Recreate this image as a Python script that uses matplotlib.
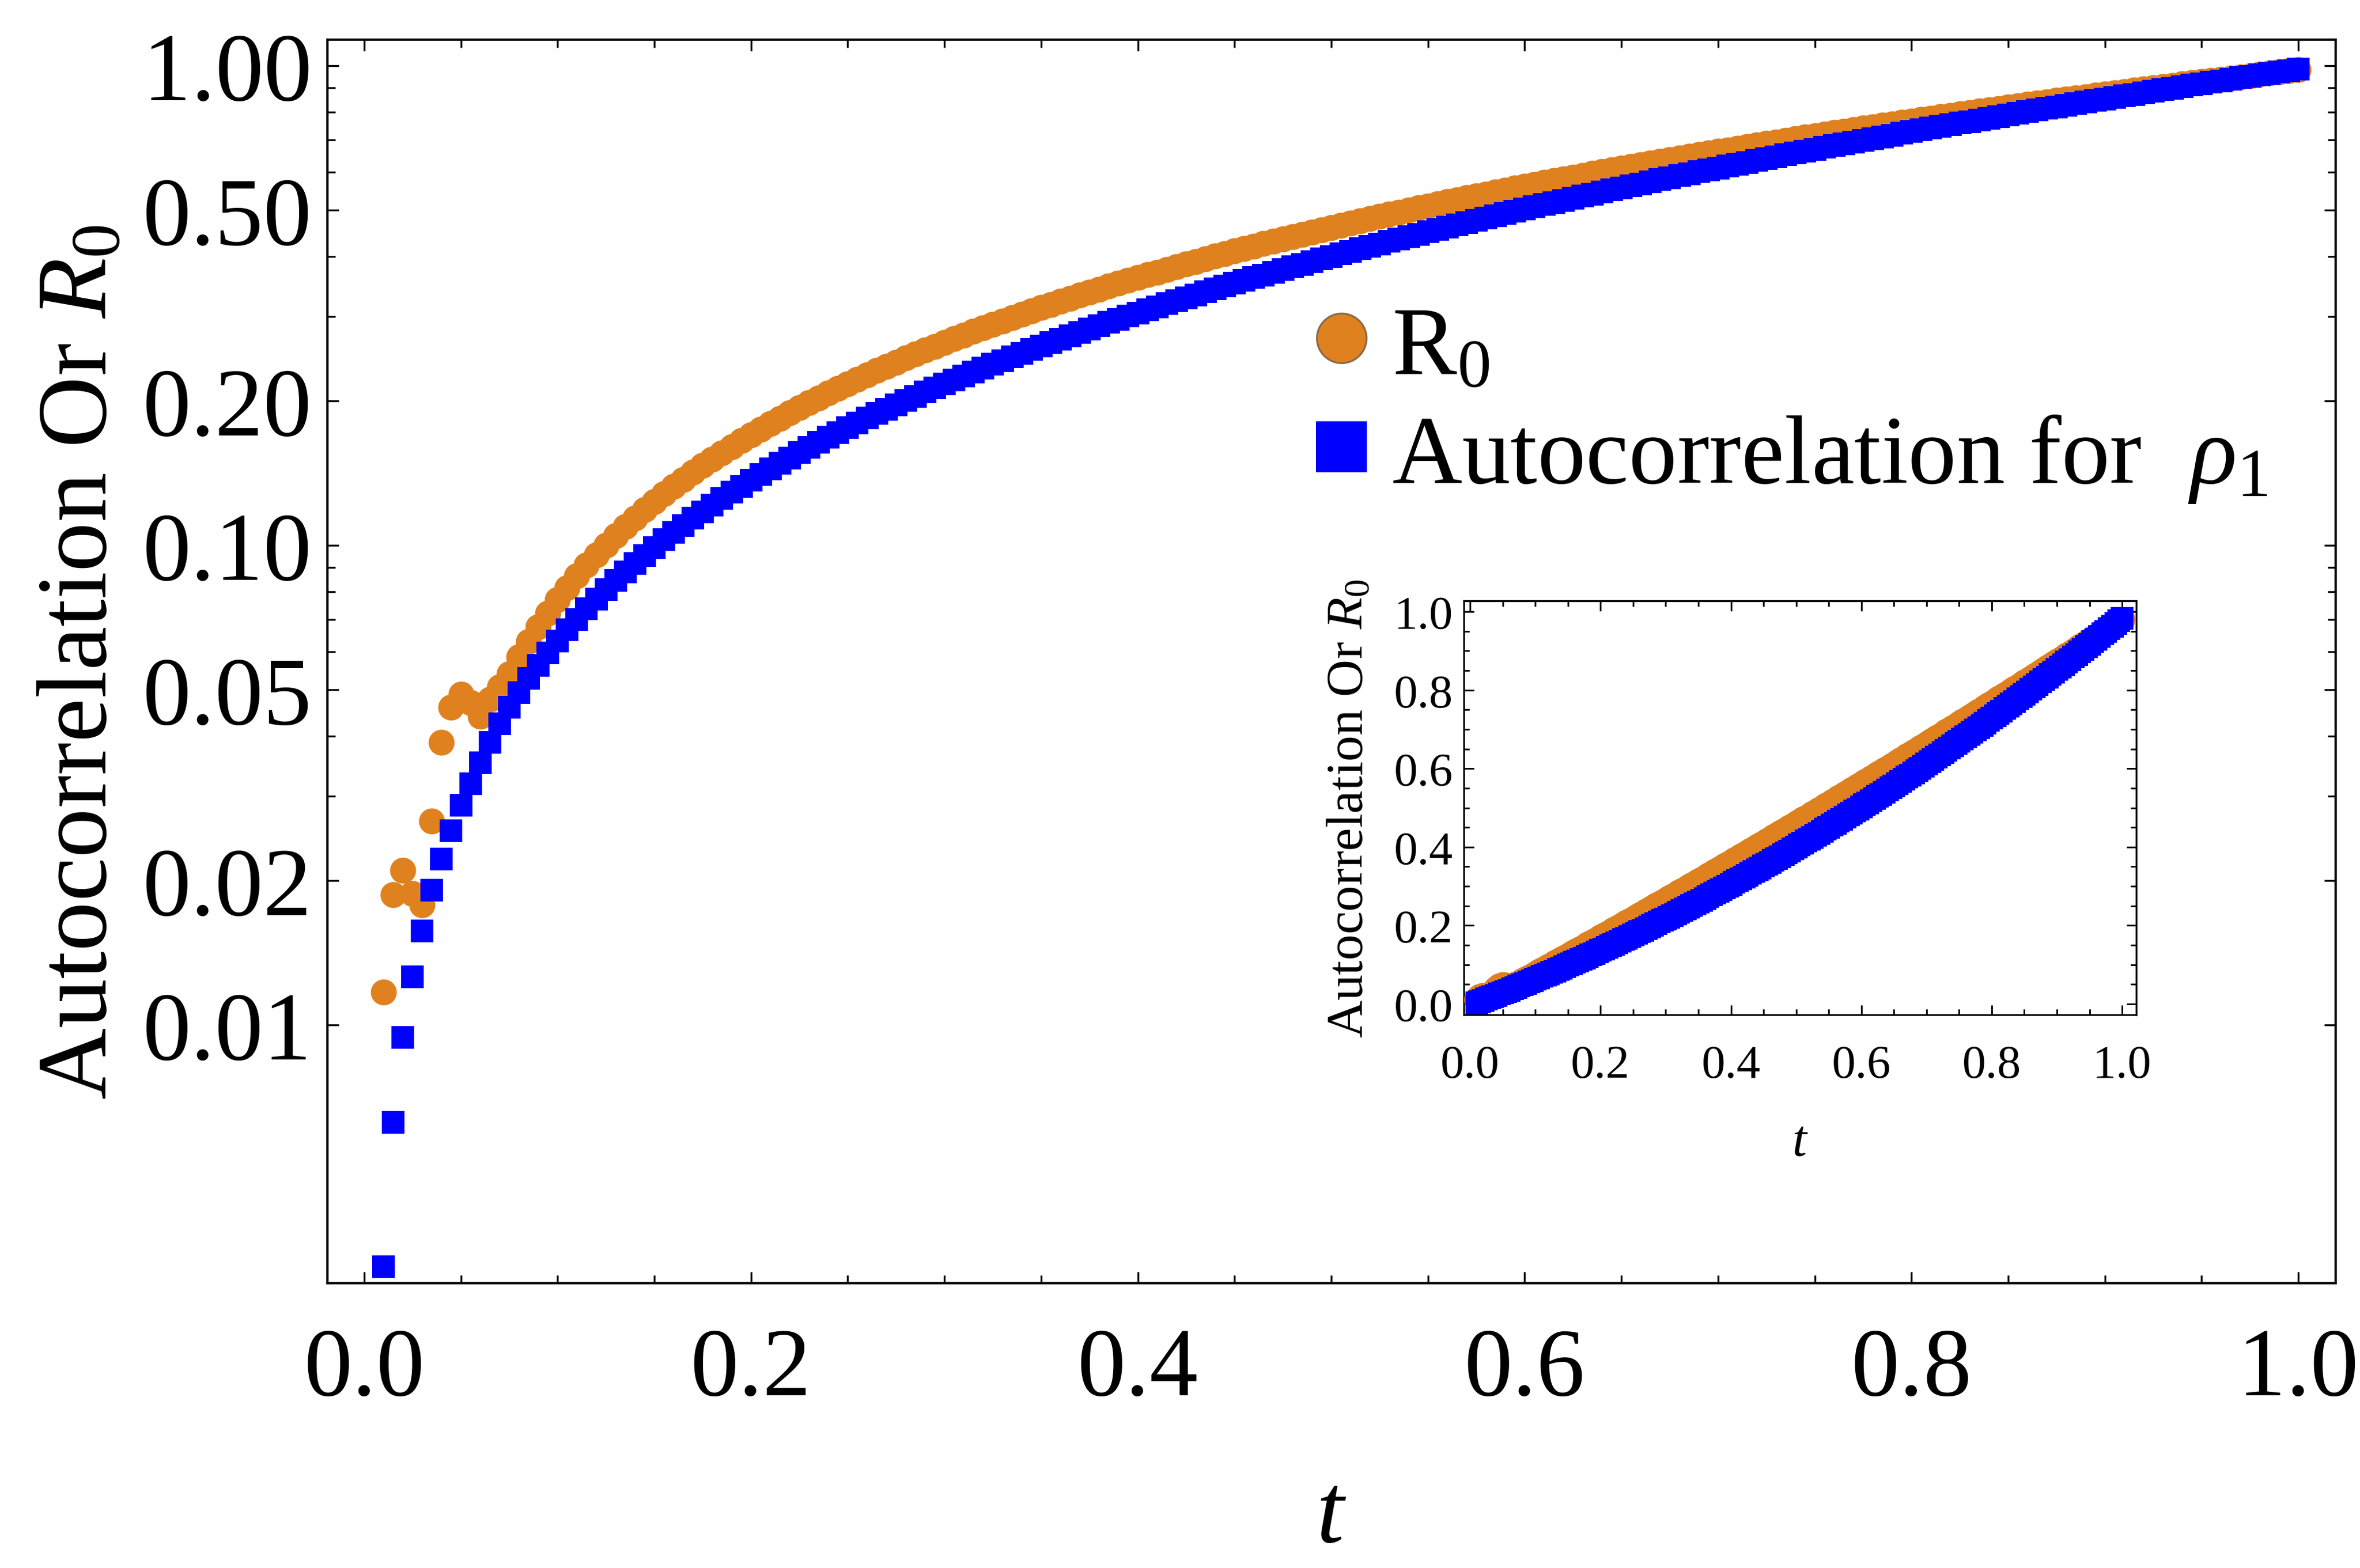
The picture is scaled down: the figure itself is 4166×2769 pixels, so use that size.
import matplotlib
matplotlib.use('Agg')
import matplotlib.pyplot as plt
from matplotlib.lines import Line2D
from matplotlib.ticker import FixedLocator, FixedFormatter, NullFormatter

# ---------------- data ----------------
t_values = [
    0.010, 0.015, 0.020, 0.025, 0.030, 0.035, 0.040, 0.045, 0.050, 0.055,
    0.060, 0.065, 0.070, 0.075, 0.080, 0.085, 0.090, 0.095, 0.100, 0.105,
    0.110, 0.115, 0.120, 0.125, 0.130, 0.135, 0.140, 0.145, 0.150, 0.155,
    0.160, 0.165, 0.170, 0.175, 0.180, 0.185, 0.190, 0.195, 0.200, 0.205,
    0.210, 0.215, 0.220, 0.225, 0.230, 0.235, 0.240, 0.245, 0.250, 0.255,
    0.260, 0.265, 0.270, 0.275, 0.280, 0.285, 0.290, 0.295, 0.300, 0.305,
    0.310, 0.315, 0.320, 0.325, 0.330, 0.335, 0.340, 0.345, 0.350, 0.355,
    0.360, 0.365, 0.370, 0.375, 0.380, 0.385, 0.390, 0.395, 0.400, 0.405,
    0.410, 0.415, 0.420, 0.425, 0.430, 0.435, 0.440, 0.445, 0.450, 0.455,
    0.460, 0.465, 0.470, 0.475, 0.480, 0.485, 0.490, 0.495, 0.500, 0.505,
    0.510, 0.515, 0.520, 0.525, 0.530, 0.535, 0.540, 0.545, 0.550, 0.555,
    0.560, 0.565, 0.570, 0.575, 0.580, 0.585, 0.590, 0.595, 0.600, 0.605,
    0.610, 0.615, 0.620, 0.625, 0.630, 0.635, 0.640, 0.645, 0.650, 0.655,
    0.660, 0.665, 0.670, 0.675, 0.680, 0.685, 0.690, 0.695, 0.700, 0.705,
    0.710, 0.715, 0.720, 0.725, 0.730, 0.735, 0.740, 0.745, 0.750, 0.755,
    0.760, 0.765, 0.770, 0.775, 0.780, 0.785, 0.790, 0.795, 0.800, 0.805,
    0.810, 0.815, 0.820, 0.825, 0.830, 0.835, 0.840, 0.845, 0.850, 0.855,
    0.860, 0.865, 0.870, 0.875, 0.880, 0.885, 0.890, 0.895, 0.900, 0.905,
    0.910, 0.915, 0.920, 0.925, 0.930, 0.935, 0.940, 0.945, 0.950, 0.955,
    0.960, 0.965, 0.970, 0.975, 0.980, 0.985, 0.990, 0.995, 1.000,
]

r0_values = [
    0.0117, 0.0187, 0.0210, 0.0188, 0.0178, 0.0266, 0.0388, 0.0460, 0.0489, 0.0470,
    0.0440, 0.0477, 0.0507, 0.0540, 0.0585, 0.0630, 0.0675, 0.0722, 0.0770, 0.0816,
    0.0862, 0.0908, 0.0954, 0.1001, 0.1047, 0.1093, 0.1139, 0.1186, 0.1232, 0.1279,
    0.1325, 0.1372, 0.1419, 0.1465, 0.1512, 0.1559, 0.1606, 0.1652, 0.1699, 0.1746,
    0.1793, 0.1840, 0.1887, 0.1935, 0.1982, 0.2029, 0.2076, 0.2124, 0.2171, 0.2218,
    0.2266, 0.2313, 0.2361, 0.2408, 0.2456, 0.2504, 0.2552, 0.2599, 0.2647, 0.2695,
    0.2743, 0.2791, 0.2839, 0.2887, 0.2935, 0.2983, 0.3032, 0.3080, 0.3128, 0.3177,
    0.3225, 0.3273, 0.3322, 0.3370, 0.3419, 0.3468, 0.3516, 0.3565, 0.3614, 0.3662,
    0.3711, 0.3760, 0.3809, 0.3858, 0.3907, 0.3956, 0.4006, 0.4055, 0.4104, 0.4153,
    0.4203, 0.4252, 0.4301, 0.4351, 0.4400, 0.4450, 0.4500, 0.4549, 0.4599, 0.4649,
    0.4698, 0.4748, 0.4798, 0.4848, 0.4898, 0.4948, 0.4998, 0.5048, 0.5098, 0.5149,
    0.5199, 0.5249, 0.5299, 0.5350, 0.5400, 0.5451, 0.5501, 0.5552, 0.5603, 0.5653,
    0.5704, 0.5755, 0.5806, 0.5856, 0.5907, 0.5958, 0.6009, 0.6060, 0.6111, 0.6162,
    0.6214, 0.6265, 0.6316, 0.6367, 0.6419, 0.6470, 0.6522, 0.6573, 0.6625, 0.6676,
    0.6728, 0.6780, 0.6831, 0.6883, 0.6935, 0.6987, 0.7039, 0.7091, 0.7143, 0.7195,
    0.7247, 0.7299, 0.7352, 0.7404, 0.7456, 0.7508, 0.7561, 0.7613, 0.7666, 0.7718,
    0.7771, 0.7823, 0.7876, 0.7929, 0.7982, 0.8034, 0.8087, 0.8140, 0.8193, 0.8246,
    0.8299, 0.8352, 0.8405, 0.8459, 0.8512, 0.8565, 0.8618, 0.8672, 0.8725, 0.8779,
    0.8832, 0.8886, 0.8939, 0.8993, 0.9047, 0.9100, 0.9154, 0.9208, 0.9262, 0.9316,
    0.9370, 0.9424, 0.9478, 0.9532, 0.9586, 0.9640, 0.9695, 0.9749, 0.9803,
]

rho1_values = [
    0.00313, 0.00627, 0.00942, 0.0126, 0.0157, 0.0191, 0.0222, 0.0254, 0.0287, 0.0318,
    0.0352, 0.0388, 0.0425, 0.0459, 0.0493, 0.0527, 0.0562, 0.0596, 0.0631, 0.0666,
    0.0701, 0.0737, 0.0772, 0.0808, 0.0844, 0.0880, 0.0916, 0.0953, 0.0989, 0.1026,
    0.1063, 0.1100, 0.1138, 0.1175, 0.1213, 0.1251, 0.1289, 0.1327, 0.1365, 0.1404,
    0.1443, 0.1482, 0.1521, 0.1560, 0.1600, 0.1639, 0.1679, 0.1719, 0.1760, 0.1800,
    0.1841, 0.1881, 0.1922, 0.1963, 0.2005, 0.2046, 0.2088, 0.2130, 0.2172, 0.2214,
    0.2256, 0.2299, 0.2342, 0.2385, 0.2428, 0.2471, 0.2515, 0.2558, 0.2602, 0.2646,
    0.2690, 0.2735, 0.2779, 0.2824, 0.2869, 0.2914, 0.2959, 0.3005, 0.3050, 0.3096,
    0.3142, 0.3188, 0.3235, 0.3281, 0.3328, 0.3375, 0.3422, 0.3469, 0.3516, 0.3564,
    0.3612, 0.3660, 0.3708, 0.3756, 0.3805, 0.3853, 0.3902, 0.3951, 0.4001, 0.4050,
    0.4100, 0.4149, 0.4199, 0.4249, 0.4300, 0.4350, 0.4401, 0.4452, 0.4503, 0.4554,
    0.4605, 0.4657, 0.4709, 0.4761, 0.4813, 0.4865, 0.4918, 0.4970, 0.5023, 0.5076,
    0.5129, 0.5183, 0.5236, 0.5290, 0.5344, 0.5398, 0.5452, 0.5507, 0.5561, 0.5616,
    0.5671, 0.5726, 0.5782, 0.5837, 0.5893, 0.5949, 0.6005, 0.6061, 0.6117, 0.6174,
    0.6231, 0.6288, 0.6345, 0.6402, 0.6460, 0.6517, 0.6575, 0.6633, 0.6692, 0.6750,
    0.6809, 0.6867, 0.6926, 0.6985, 0.7045, 0.7104, 0.7164, 0.7224, 0.7284, 0.7344,
    0.7404, 0.7465, 0.7526, 0.7587, 0.7648, 0.7709, 0.7771, 0.7832, 0.7894, 0.7956,
    0.8018, 0.8081, 0.8143, 0.8206, 0.8269, 0.8332, 0.8395, 0.8459, 0.8522, 0.8586,
    0.8650, 0.8714, 0.8779, 0.8843, 0.8908, 0.8973, 0.9038, 0.9103, 0.9168, 0.9234,
    0.9300, 0.9366, 0.9432, 0.9498, 0.9565, 0.9631, 0.9698, 0.9765, 0.9833,
]

legend_labels = ['R$_0$', 'Autocorrelation for  $\\rho_1$']
main_ylabel = 'Autocorrelation Or $R_0$'
xlabel_text = '$t$'

x_major = [0.0, 0.2, 0.4, 0.6, 0.8, 1.0]
x_major_labels = ['0.0', '0.2', '0.4', '0.6', '0.8', '1.0']
x_minor = [0.05, 0.10, 0.15, 0.25, 0.30, 0.35, 0.45, 0.50, 0.55, 0.65, 0.70,
           0.75, 0.85, 0.90, 0.95]
y_major = [0.01, 0.02, 0.05, 0.10, 0.20, 0.50, 1.00]
y_major_labels = ['0.01', '0.02', '0.05', '0.10', '0.20', '0.50', '1.00']
y_minor = [0.03, 0.04, 0.06, 0.07, 0.08, 0.09, 0.3, 0.4, 0.6, 0.7, 0.8, 0.9]
inset_major = [0.0, 0.2, 0.4, 0.6, 0.8, 1.0]
inset_major_labels = ['0.0', '0.2', '0.4', '0.6', '0.8', '1.0']
inset_minor = x_minor

ORANGE = '#E0811F'
BLUE = '#0000FF'

# ---------------- style ----------------
plt.rcParams['font.family'] = ['Liberation Serif', 'DejaVu Serif']
plt.rcParams['mathtext.fontset'] = 'custom'
plt.rcParams['mathtext.rm'] = 'Liberation Serif'
plt.rcParams['mathtext.it'] = 'Liberation Serif:italic'
plt.rcParams['mathtext.bf'] = 'Liberation Serif:bold'

fig = plt.figure(figsize=(4166 / 300, 2770 / 300), dpi=300)

# ---------------- main axes ----------------
ax = fig.add_axes([0.1387, 0.1816, 0.8510, 0.7928])
ax.set_yscale('log')
ax.plot(t_values, r0_values, ls='none', marker='o', ms=11, mfc=ORANGE,
        mec='none', zorder=3)
ax.plot(t_values, rho1_values, ls='none', marker='s', ms=9.6, mfc=BLUE,
        mec='none', zorder=4)
ax.set_xlim(-0.01904, 1.01933)
ax.set_ylim(0.002894, 1.1331)

ax.xaxis.set_major_locator(FixedLocator(x_major))
ax.xaxis.set_major_formatter(FixedFormatter(x_major_labels))
ax.xaxis.set_minor_locator(FixedLocator(x_minor))
ax.xaxis.set_minor_formatter(NullFormatter())
ax.yaxis.set_major_locator(FixedLocator(y_major))
ax.yaxis.set_major_formatter(FixedFormatter(y_major_labels))
ax.yaxis.set_minor_locator(FixedLocator(y_minor))
ax.yaxis.set_minor_formatter(NullFormatter())

ax.tick_params(which='both', direction='in', top=True, right=True, width=0.8)
ax.tick_params(which='major', length=4.7, labelsize=41)
ax.tick_params(which='minor', length=3.4)
ax.tick_params(axis='x', which='major', pad=18.7)
ax.tick_params(axis='y', which='major', pad=6.5)
for sp in ax.spines.values():
    sp.set_linewidth(1.0)

ax.set_ylabel(main_ylabel, fontsize=42)
ax.yaxis.set_label_coords(-0.100, 0.5)
ax.set_xlabel(xlabel_text, fontsize=42)
ax.xaxis.set_label_coords(0.5, -0.152)

handles = [
    Line2D([], [], ls='none', marker='o', ms=21, mfc=ORANGE, mec='#8a6a4a', mew=0.8),
    Line2D([], [], ls='none', marker='s', ms=21.5, mfc=BLUE, mec='none'),
]
ax.legend(handles, legend_labels, loc='upper left', bbox_to_anchor=(0.492, 0.7885),
          frameon=False, fontsize=41, handlelength=0.54, handletextpad=0.25,
          labelspacing=0.18, borderpad=0, borderaxespad=0, handleheight=0.8)

# ---------------- inset ----------------
axi = fig.add_axes([0.6203, 0.3527, 0.2849, 0.2639])
axi.plot(t_values, r0_values, ls='none', marker='o', ms=11, mfc=ORANGE,
         mec='none', zorder=3)
axi.plot(t_values, rho1_values, ls='none', marker='s', ms=9.5, mfc=BLUE,
         mec='none', zorder=4)
axi.set_xlim(-0.00956, 1.0217)
axi.set_ylim(-0.0274, 1.0274)
for axis in (axi.xaxis, axi.yaxis):
    axis.set_major_locator(FixedLocator(inset_major))
    axis.set_major_formatter(FixedFormatter(inset_major_labels))
    axis.set_minor_locator(FixedLocator(inset_minor))
    axis.set_minor_formatter(NullFormatter())
axi.tick_params(which='both', direction='in', top=True, right=True, width=0.7)
axi.tick_params(which='major', length=4.2, labelsize=20)
axi.tick_params(which='minor', length=2.5)
axi.tick_params(axis='x', which='major', pad=12.5)
axi.tick_params(axis='y', which='major', pad=4.6)
for sp in axi.spines.values():
    sp.set_linewidth(0.8)
axi.set_ylabel(main_ylabel, fontsize=22)
axi.yaxis.set_label_coords(-0.135, 0.5)
axi.set_xlabel(xlabel_text, fontsize=22)
axi.xaxis.set_label_coords(0.5, -0.252)

fig.savefig('out.png', dpi=300, facecolor='white')
